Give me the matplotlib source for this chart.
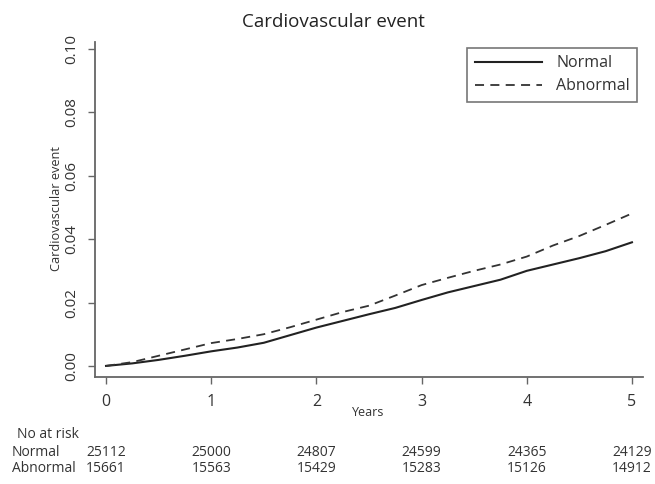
import matplotlib
matplotlib.use("Agg")
import matplotlib.pyplot as plt
import matplotlib.transforms as mtransforms

plt.rcParams['font.family'] = ['Open Sans', 'DejaVu Sans']

# years and cumulative incidence
years = [0, 0.25, 0.5, 0.75, 1, 1.25, 1.5, 1.75, 2, 2.25, 2.5, 2.75,
         3, 3.25, 3.5, 3.75, 4, 4.25, 4.5, 4.75, 5]
normal = [0, 0.0008, 0.0019, 0.0032, 0.0046, 0.0058, 0.0073, 0.0097, 0.0121,
          0.0142, 0.0163, 0.0183, 0.0208, 0.0232, 0.0252, 0.0272, 0.0300,
          0.0320, 0.0340, 0.0362, 0.0390]
abnormal = [0, 0.0012, 0.0032, 0.0052, 0.0072, 0.0085, 0.0100, 0.0122, 0.0146,
            0.0170, 0.0190, 0.0222, 0.0255, 0.0278, 0.0300, 0.0320, 0.0345,
            0.0380, 0.0410, 0.0445, 0.0481]

# numbers at risk
risk_years = [0, 1, 2, 3, 4, 5]
risk_normal = [25112, 25000, 24807, 24599, 24365, 24129]
risk_abnormal = [15661, 15563, 15429, 15283, 15126, 14912]

yticks = [0.00, 0.02, 0.04, 0.06, 0.08, 0.10]

W, H = 655, 484
fig = plt.figure(figsize=(W / 100, H / 100), dpi=100)
ax = fig.add_axes([95 / W, 1 - 377 / H, (643 - 95) / W, (377 - 42) / H])

ax.plot(years, normal, color="#222222", lw=1.5, label="Normal")
ax.plot(years, abnormal, color="#333333", lw=1.3, dashes=(5, 3.5), label="Abnormal")

ax.set_xlim(-0.105, 5.105)
ax.set_ylim(-0.0035, 0.1022)
ax.set_xticks(risk_years)
ax.set_yticks(yticks)
ax.set_yticklabels(["%.2f" % v for v in yticks], rotation=90, va="center")

for s in ["top", "right"]:
    ax.spines[s].set_visible(False)
for s in ["left", "bottom"]:
    ax.spines[s].set_color("#666666")
    ax.spines[s].set_linewidth(1.3)
ax.tick_params(axis="both", colors="#666666", length=5, width=1, labelcolor="#333333")
ax.tick_params(axis="x", labelsize=11.5, pad=7)
ax.tick_params(axis="y", labelsize=11, pad=6)

fig.text(333 / W, 1 - 22 / H, "Cardiovascular event", ha="center", va="center",
         fontsize=13.5, color="#222222")

fig.text(57 / W, 1 - 209 / H, "Cardiovascular event", rotation=90,
         ha="center", va="center", fontsize=9.2, color="#333333")
fig.text(368 / W, 1 - 412 / H, "Years", ha="center", va="center",
         fontsize=9, color="#333333")

leg = ax.legend(loc="upper right", bbox_to_anchor=(0.989, 0.982), borderaxespad=0,
                fontsize=11.5, handlelength=4.2, handletextpad=0.9, fancybox=False,
                framealpha=1, edgecolor="#777777", borderpad=0.45, labelspacing=0.45)
leg.get_frame().set_linewidth(1.2)
for t in leg.get_texts():
    t.set_color("#333333")

# risk table
fs = 10
fig.text(17 / W, 1 - 434 / H, "No at risk", ha="left", va="center", fontsize=fs, color="#333333")
fig.text(12 / W, 1 - 452 / H, "Normal", ha="left", va="center", fontsize=fs, color="#333333")
fig.text(12 / W, 1 - 468 / H, "Abnormal", ha="left", va="center", fontsize=fs, color="#333333")
trans = mtransforms.blended_transform_factory(ax.transData, fig.transFigure)
for x, a, b in zip(risk_years, risk_normal, risk_abnormal):
    ax.text(x, 1 - 452 / H, str(a), transform=trans, ha="center", va="center",
            fontsize=fs, color="#333333")
    ax.text(x, 1 - 468 / H, str(b), transform=trans, ha="center", va="center",
            fontsize=fs, color="#333333")

fig.savefig("out.png", dpi=100)
